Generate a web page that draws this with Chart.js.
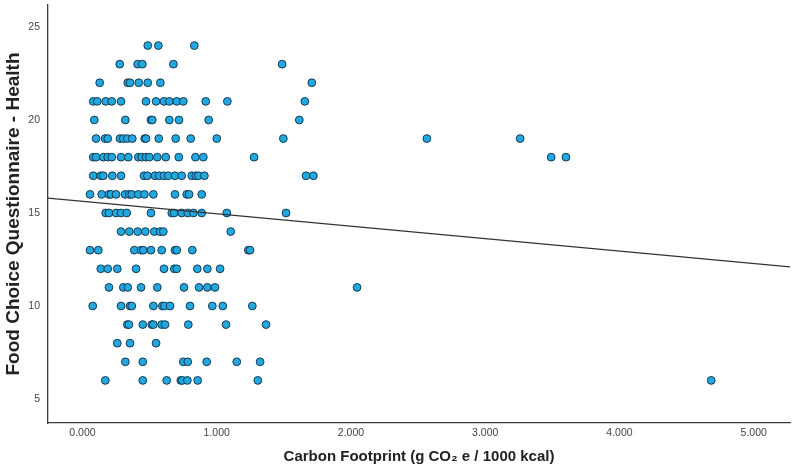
<!DOCTYPE html>
<html>
<head>
<meta charset="utf-8">
<script src="https://cdn.jsdelivr.net/npm/chart.js@4/dist/chart.umd.min.js"></script>
<style>
  html, body { margin: 0; padding: 0; background: #ffffff; }
  #wrap { width: 796px; height: 471px; }
</style>
</head>
<body>
<div id="wrap"><canvas id="c" width="796" height="471"></canvas></div>
<script>
// Health score rows (y) and the carbon footprint values (x) observed in each row
const healthScores = [24, 23, 22, 21, 20, 19, 18, 17, 16, 15, 14, 13, 12, 11, 10, 9, 8, 7, 6];
const carbonByScore = [
  [0.486, 0.565, 0.833],
  [0.277, 0.411, 0.446, 0.677, 1.487],
  [0.128, 0.337, 0.354, 0.419, 0.486, 0.580, 1.708],
  [0.080, 0.110, 0.173, 0.218, 0.287, 0.473, 0.548, 0.607, 0.647, 0.702, 0.751, 0.918, 1.079, 1.656],
  [0.088, 0.319, 0.510, 0.520, 0.647, 0.719, 0.940, 1.615],
  [0.101, 0.168, 0.188, 0.279, 0.304, 0.334, 0.371, 0.463, 0.473, 0.568, 0.694, 0.806, 1.000, 1.496, 2.565, 3.260],
  [0.080, 0.101, 0.155, 0.188, 0.218, 0.287, 0.341, 0.416, 0.441, 0.473, 0.498, 0.557, 0.620, 0.717, 0.841, 0.900, 1.278, 3.491, 3.601],
  [0.080, 0.136, 0.155, 0.222, 0.287, 0.458, 0.483, 0.540, 0.572, 0.607, 0.639, 0.689, 0.739, 0.814, 0.844, 0.863, 0.908, 1.665, 1.720],
  [0.056, 0.143, 0.197, 0.212, 0.250, 0.317, 0.349, 0.367, 0.416, 0.461, 0.528, 0.689, 0.776, 0.794, 0.888],
  [0.173, 0.197, 0.250, 0.287, 0.329, 0.510, 0.665, 0.682, 0.739, 0.784, 0.826, 0.888, 1.075, 1.516],
  [0.287, 0.349, 0.411, 0.468, 0.535, 0.577, 0.602, 1.104],
  [0.056, 0.118, 0.386, 0.436, 0.453, 0.510, 0.590, 0.689, 0.702, 0.818, 1.235, 1.248],
  [0.136, 0.188, 0.259, 0.399, 0.607, 0.684, 0.702, 0.855, 0.930, 1.025],
  [0.197, 0.304, 0.337, 0.436, 0.557, 0.756, 0.868, 0.930, 0.987, 2.045],
  [0.076, 0.287, 0.354, 0.367, 0.528, 0.595, 0.610, 0.652, 0.801, 0.967, 1.045, 1.265],
  [0.334, 0.346, 0.449, 0.516, 0.528, 0.590, 0.615, 0.788, 1.069, 1.367],
  [0.259, 0.354, 0.548],
  [0.319, 0.449, 0.751, 0.784, 0.925, 1.149, 1.323],
  [0.170, 0.449, 0.627, 0.732, 0.744, 0.781, 0.858, 1.306, 4.683]
];

// Fit line endpoints
const fitLineX = [-0.257, 5.27];
const fitLineY = [15.80, 12.10];

// Axis ticks and ranges
const xTicks = [0, 1, 2, 3, 4, 5];
const yTicks = [5, 10, 15, 20, 25];
const xRange = [-0.257, 5.27];
const yRange = [3.71, 26.18];

const xTitle = 'Carbon Footprint (g CO\u2082 e / 1000 kcal)';
const yTitle = 'Food Choice Questionnaire - Health';

const points = [];
healthScores.forEach((h, i) => {
  carbonByScore[i].forEach(c => points.push({ x: c, y: h }));
});
const fitPoints = fitLineX.map((x, i) => ({ x: x, y: fitLineY[i] }));

new Chart(document.getElementById('c'), {
  type: 'scatter',
  data: {
    datasets: [
      {
        type: 'line',
        data: fitPoints,
        borderColor: '#333333',
        borderWidth: 1.3,
        pointRadius: 0,
        fill: false,
        tension: 0,
        order: 0
      },
      {
        data: points,
        backgroundColor: '#22a8de',
        borderColor: '#143a56',
        borderWidth: 1,
        pointRadius: 3.9,
        order: 1
      }
    ]
  },
  options: {
    responsive: false,
    animation: false,
    layout: { padding: { top: 5, right: 6, left: 0, bottom: 0 } },
    plugins: { legend: { display: false }, tooltip: { enabled: false } },
    scales: {
      x: {
        type: 'linear',
        min: xRange[0],
        max: xRange[1],
        afterBuildTicks: s => { s.ticks = xTicks.map(v => ({ value: v })); },
        afterFit: s => { s.height = 48; s.paddingLeft = 0; s.paddingRight = 0; },
        grid: { display: false, drawTicks: false },
        border: { display: true, color: '#3a3a3a', width: 1.3 },
        ticks: {
          padding: 4,
          color: '#444444',
          font: { family: 'Liberation Sans', size: 10.5 },
          callback: v => Number(v).toFixed(3)
        },
        title: {
          display: true,
          text: xTitle,
          color: '#222222',
          font: { family: 'Liberation Sans', size: 15, weight: 'bold' },
          padding: { top: 0, bottom: 5 }
        }
      },
      y: {
        type: 'linear',
        min: yRange[0],
        max: yRange[1],
        afterBuildTicks: s => { s.ticks = yTicks.map(v => ({ value: v })); },
        afterFit: s => { s.width = 48; s.paddingTop = 0; s.paddingBottom = 0; },
        grid: { display: false, drawTicks: false },
        border: { display: true, color: '#3a3a3a', width: 1.3 },
        ticks: {
          padding: 8,
          color: '#444444',
          font: { family: 'Liberation Sans', size: 10.5 },
          callback: v => String(v)
        },
        title: {
          display: true,
          text: yTitle,
          color: '#222222',
          font: { family: 'Liberation Sans', size: 19, weight: 'bold' },
          padding: { top: 2, bottom: 0 }
        }
      }
    }
  }
});
</script>
</body>
</html>
